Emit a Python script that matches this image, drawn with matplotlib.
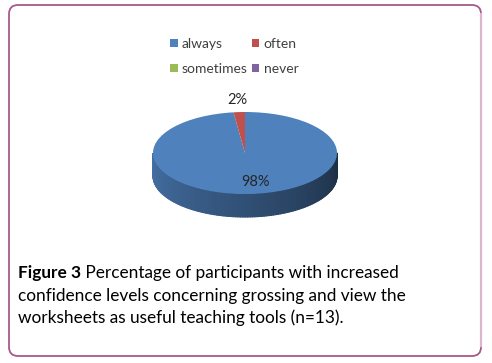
import numpy as np
import matplotlib.pyplot as plt
from matplotlib.patches import FancyBboxPatch, Patch
from matplotlib.transforms import Affine2D
import matplotlib.colors as mcolors

categories = ['always', 'often', 'sometimes', 'never']
values = [98, 2, 0, 0]
colors = ['#4f81bd', '#c0504d', '#9bbb59', '#8064a2']
caption_bold = 'Figure 3'
caption_rest = [' Percentage of participants with increased',
                'confidence levels concerning grossing and view the',
                'worksheets as useful teaching tools (n=13).']

W, H = 492, 363
fig = plt.figure(figsize=(W / 100, H / 100), dpi=100)
ax = fig.add_axes([0, 0, 1, 1])

# pie geometry (pixels, y up)
cx, cy = 245, H - 153
rx, ry = 92, 41
depth = 23

nz = [(v, c) for v, c in zip(values, colors) if v > 0]
wedges, _ = ax.pie([v for v, c in nz], colors=[c for v, c in nz], startangle=90,
                   counterclock=False, center=(cx, cy), radius=rx,
                   frame=True, wedgeprops=dict(linewidth=0))
squash = Affine2D().translate(-cx, -cy).scale(1, ry / rx).translate(cx, cy)
for w in wedges:
    w.set_transform(squash + ax.transData)
    w.set_zorder(3)

# side wall of the 3d pie (front half)
def owner(t):
    for w in wedges:
        a1, a2 = w.theta1 % 360, w.theta2 % 360
        tt = t % 360
        if a1 <= a2:
            if a1 <= tt <= a2:
                return w.get_facecolor()
        elif tt >= a1 or tt <= a2:
            return w.get_facecolor()
    return wedges[0].get_facecolor()

ts = np.linspace(180, 360, 121)
for t0, t1 in zip(ts[:-1], ts[1:]):
    tm = 0.5 * (t0 + t1)
    base = np.array(mcolors.to_rgb(owner(tm)))
    f = 0.88 - 0.52 * (tm - 180) / 180
    r0, r1 = np.radians([t0, t1 + 0.3])
    xs = [cx + rx * np.cos(r0), cx + rx * np.cos(r1), cx + rx * np.cos(r1), cx + rx * np.cos(r0)]
    ys = [cy + ry * np.sin(r0), cy + ry * np.sin(r1), cy + ry * np.sin(r1) - depth, cy + ry * np.sin(r0) - depth]
    ax.fill(xs, ys, facecolor=base * f, edgecolor=base * f, lw=0.8, zorder=2)

# data labels
for w, (v, c) in zip(wedges, nz):
    mid = np.radians(0.5 * (w.theta1 + w.theta2))
    k = 0.72 if v > 50 else 1.3
    ax.text(cx + k * rx * np.cos(mid) + (6 if v > 50 else 0), cy + k * ry * np.sin(mid), f'{v}%',
            ha='center', va='center', fontsize=10.5, color='#262626', family='Lato', zorder=5)

ax.set_aspect('auto')
ax.set_xlim(0, W)
ax.set_ylim(0, H)
ax.axis('off')

# legend
handles = [Patch(facecolor=c, edgecolor='none') for c in colors]
order = [0, 2, 1, 3]
leg = fig.legend([handles[i] for i in order], [categories[i] for i in order],
                 ncol=2, loc='upper left', bbox_to_anchor=(163 / W, 1 - 31 / H),
                 frameon=False, prop=dict(family='Lato', size=10),
                 handlelength=0.55, handleheight=0.55, handletextpad=0.3,
                 labelspacing=0.95, columnspacing=0.3, borderpad=0, labelcolor='#404040')

# frame
box = FancyBboxPatch((9, H - 356), 472, 351, boxstyle='round,pad=0,rounding_size=9',
                     facecolor='none', edgecolor='#a8588a', lw=1.3, zorder=1)
ax.add_patch(box)
ax.plot([481, 481], [H - 346, H - 14], color='#dcb6cc', lw=1.6, zorder=1.5)

# caption
fs = 12.4
t = ax.text(18, H - 273, caption_bold, fontsize=fs, fontweight='bold', family='Lato',
            va='center', ha='left')
fig.canvas.draw()
bb = t.get_window_extent()
ax.text(18 + bb.width, H - 273, caption_rest[0], fontsize=fs, family='Lato', va='center', ha='left')
ax.text(18, H - 295.5, caption_rest[1], fontsize=fs, family='Lato', va='center', ha='left')
ax.text(18, H - 318, caption_rest[2], fontsize=fs, family='Lato', va='center', ha='left')

fig.savefig('out.png', dpi=100)
